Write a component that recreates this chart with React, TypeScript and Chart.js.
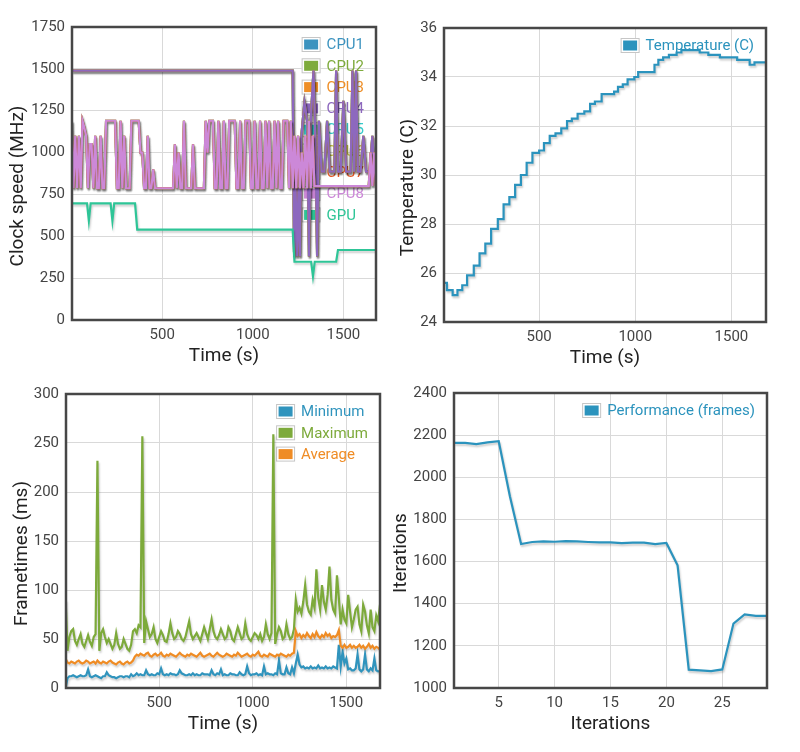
import React, { useEffect, useRef } from 'react';
import Chart from 'chart.js/auto';

const FONT = 'Roboto, "Noto Sans", sans-serif';
Chart.defaults.font.family = FONT;

// ---------- Clock speed ----------
const CPU_NAMES = ['CPU1', 'CPU2', 'CPU3', 'CPU4', 'CPU5', 'CPU6', 'CPU7', 'CPU8', 'GPU'];
const CPU_COLORS = ['#3c93bf', '#7eab3c', '#ef8f27', '#8d68be', '#35cccc', '#c6c33d', '#ef5b27', '#cc88d8', '#2ec597'];
const TIME_TICKS = [500, 1000, 1500];

// one sample every 10 s (clock speed of the little cores, frametimes)
const SAMPLE_TIME = Array.from({ length: 169 }, (_, i) => i * 10);

// CPU1-4 (big cluster) – change points
const BIG_TIME = [0, 1220, 1228, 1236, 1244, 1252, 1260, 1268, 1285, 1300,
  1310, 1320, 1335, 1345, 1355, 1365, 1380, 1395, 1410, 1425,
  1440, 1450, 1460, 1470, 1485, 1500, 1515, 1530, 1540, 1550,
  1560, 1570, 1580, 1595, 1610, 1625, 1645, 1660, 1670, 1680];
const BIG_MHZ = [1490, 1490, 380, 800, 380, 790, 380, 1100, 1300, 1190,
  380, 1200, 1490, 1100, 380, 1190, 886, 886, 1190, 886,
  886, 886, 1490, 886, 886, 1310, 886, 886, 886, 1490,
  886, 1490, 886, 886, 1100, 886, 886, 1100, 886, 886];

// CPU5-8 (little cluster) – one value per sample
const LITTLE_MHZ = [
  1190, 787, 1100, 787, 1100, 787, 1190, 1150, 1100, 787,
  1050, 1050, 787, 1100, 787, 787, 1100, 787, 787, 1190,
  1190, 1190, 1190, 1190, 1190, 787, 787, 1190, 787, 1100,
  787, 787, 787, 1190, 1190, 1190, 1190, 1190, 1000, 1000,
  787, 787, 1100, 787, 787, 900, 787, 787, 787, 787,
  787, 787, 787, 787, 787, 787, 787, 1050, 787, 1000,
  787, 787, 1190, 787, 787, 787, 787, 1050, 787, 787,
  787, 787, 787, 787, 1190, 1000, 1190, 1190, 1190, 787,
  787, 1190, 787, 787, 1190, 787, 787, 1190, 1190, 1190,
  1190, 787, 787, 1190, 787, 787, 1190, 1190, 1190, 787,
  787, 1190, 787, 787, 1190, 787, 787, 1190, 787, 1190,
  787, 787, 1190, 787, 1190, 787, 787, 1190, 1190, 1190,
  787, 1190, 787, 1100, 787, 1100, 787, 1000, 787, 1100,
  787, 1190, 787, 1100, 800, 800, 800, 800, 800, 800,
  800, 800, 800, 800, 800, 800, 800, 800, 800, 800,
  800, 800, 800, 800, 800, 800, 800, 800, 800, 800,
  800, 800, 800, 800, 800, 1000, 800, 1000, 800,
];

const GPU_TIME = [0, 85, 95, 105, 215, 225, 235, 350, 362, 1220, 1230, 1322, 1332, 1342, 1460, 1470, 1680];
const GPU_MHZ = [697, 697, 593, 697, 697, 593, 697, 697, 540, 540, 348, 348, 262, 348, 348, 418, 418];

// ---------- Temperature ----------
const TEMP_TIME = [5, 20, 50, 75, 100, 125, 160, 190, 220, 250, 285, 315, 345, 375, 405, 435, 465, 500, 525, 555,
  585, 615, 645, 670, 700, 735, 765, 790, 825, 890, 910, 935, 960, 995, 1015, 1100, 1120, 1145, 1175, 1215,
  1240, 1335, 1380, 1440, 1530, 1595, 1620, 1680];
const TEMP_C = [25.6, 25.3, 25.1, 25.3, 25.5, 25.9, 26.3, 26.8, 27.2, 27.8, 28.2, 28.8, 29.1, 29.6, 30.0, 30.5,
  30.9, 31.0, 31.3, 31.6, 31.7, 31.9, 32.2, 32.3, 32.5, 32.6, 32.9, 33.0, 33.3, 33.4, 33.6, 33.7, 33.9, 34.0,
  34.2, 34.5, 34.7, 34.8, 34.9, 35.0, 35.1, 35.0, 34.9, 34.8, 34.7, 34.5, 34.6, 34.6];

// ---------- Frametimes ----------
const FRAME_NAMES = ['Minimum', 'Maximum', 'Average'];
const FRAME_COLORS = ['#3094bd', '#7daa3b', '#ef8c25'];
const FRAME_MIN = [
  0, 10, 12, 12, 13, 12, 11, 12, 13, 12,
  12, 13, 19, 12, 11, 12, 13, 12, 11, 10,
  12, 12, 16, 13, 12, 11, 11, 10, 11, 12,
  12, 11, 12, 12, 11, 14, 12, 13, 15, 13,
  14, 13, 13, 18, 14, 13, 14, 13, 13, 15,
  14, 20, 14, 13, 14, 13, 15, 14, 14, 13,
  14, 18, 15, 14, 13, 13, 14, 13, 15, 13,
  14, 13, 13, 15, 14, 14, 14, 13, 18, 14,
  13, 15, 14, 19, 13, 14, 13, 13, 15, 14,
  14, 13, 13, 16, 14, 13, 14, 22, 15, 13,
  14, 14, 15, 13, 14, 13, 22, 14, 15, 14,
  14, 13, 15, 14, 28, 15, 14, 14, 21, 15,
  14, 21, 15, 25, 34, 24, 21, 22, 20, 21,
  20, 22, 20, 21, 20, 23, 20, 21, 20, 22,
  20, 21, 20, 22, 21, 20, 44, 22, 37, 25,
  30, 19, 20, 18, 18, 20, 34, 19, 17, 19,
  34, 19, 17, 20, 18, 30, 18, 17, 17,
];
const FRAME_MAX = [
  90, 38, 52, 58, 60, 48, 44, 50, 55, 45,
  42, 48, 54, 47, 43, 52, 55, 232, 38, 56,
  60, 52, 46, 50, 45, 40, 44, 56, 45, 40,
  42, 50, 45, 40, 38, 44, 58, 60, 56, 64,
  62, 257, 46, 68, 60, 52, 55, 62, 50, 46,
  52, 58, 54, 48, 47, 55, 66, 56, 50, 52,
  58, 55, 50, 48, 52, 60, 68, 55, 50, 53,
  56, 52, 48, 55, 62, 56, 50, 60, 70, 58,
  52, 50, 54, 60, 55, 50, 52, 62, 58, 50,
  48, 55, 62, 56, 50, 52, 66, 55, 50, 48,
  52, 56, 54, 50, 55, 48, 52, 65, 55, 50,
  56, 259, 45, 55, 62, 58, 50, 52, 65, 55,
  50, 52, 60, 90, 78, 82, 76, 88, 105, 85,
  78, 75, 90, 82, 121, 92, 80, 105, 88, 80,
  95, 124, 90, 80, 76, 115, 92, 65, 80, 70,
  66, 95, 78, 62, 70, 80, 83, 65, 58, 85,
  78, 64, 56, 80, 62, 58, 74, 68, 85,
];
const FRAME_AVG = [
  30, 26, 25, 27, 26, 25, 27, 28, 26, 25,
  26, 28, 27, 25, 26, 27, 25, 28, 26, 25,
  27, 26, 25, 27, 28, 26, 25, 24, 26, 27,
  25, 24, 26, 27, 25, 26, 28, 32, 34, 33,
  35, 34, 33, 35, 36, 33, 32, 34, 35, 33,
  34, 36, 33, 32, 34, 33, 35, 34, 33, 32,
  34, 36, 34, 33, 32, 34, 33, 35, 34, 33,
  32, 34, 36, 33, 32, 33, 34, 35, 33, 32,
  34, 36, 34, 33, 32, 33, 35, 34, 33, 32,
  34, 33, 36, 34, 32, 33, 34, 35, 33, 32,
  34, 33, 35, 37, 33, 32, 34, 33, 32, 35,
  34, 33, 32, 34, 33, 35, 34, 33, 32, 34,
  33, 35, 36, 58, 53, 55, 51, 54, 52, 56,
  53, 51, 55, 52, 57, 53, 51, 54, 52, 56,
  53, 55, 51, 53, 52, 54, 59, 43, 41, 44,
  41, 42, 44, 41, 43, 41, 42, 44, 41, 43,
  40, 42, 45, 41, 43, 40, 42, 41, 39,
];

// ---------- Performance ----------
const ITERATIONS = [1, 2, 3, 4, 5, 6, 7, 8, 9, 10, 11, 12, 13, 14, 15, 16, 17, 18, 19, 20, 21, 22, 23, 24, 25, 26, 27, 28, 29];
const ITER_TICKS = [5, 10, 15, 20, 25];
const PERF_FRAMES = [2163, 2163, 2157, 2166, 2171, 1910, 1683, 1693, 1696, 1694, 1697, 1696, 1693, 1691, 1691,
  1688, 1690, 1690, 1683, 1688, 1582, 1087, 1084, 1080, 1088, 1306, 1349, 1342, 1342];

const BLUE = '#2b93bd';
const X_AXIS_H = 48;

const pts = (xs: number[], ys: number[]) => ys.map((y, i) => ({ x: xs[i], y }));

type Series = { label: string; color: string; data: { x: number; y: number }[]; stepped?: boolean };
type PanelProps = {
  pos: { left: number; top: number; width: number; height: number };
  area: { left: number; top: number; right: number; bottom: number };
  yTitleX: number;
  yTitle: string;
  xTitle: string;
  x: { min: number; max: number; ticks: number[] };
  y: { min: number; max: number; step: number };
  series: Series[];
  legend: { label: string; color: string }[];
};

function Panel(p: PanelProps) {
  const ref = useRef<HTMLCanvasElement>(null);

  useEffect(() => {
    if (!ref.current) return;

    // legend inside the plot, border round it, rotated y title, soft line shadows
    const frame = {
      id: 'frame',
      beforeDatasetsDraw(chart: any) {
        const { ctx, chartArea: a } = chart;
        ctx.save();
        ctx.font = `15px ${FONT}`;
        const textW = Math.max(...p.legend.map((it) => ctx.measureText(it.label).width));
        const boxW = 19, boxH = 15, gap = 6, rowH = 21.3;
        const x0 = a.right - 12 - textW - gap - boxW;
        p.legend.forEach((it, i) => {
          const cy = a.top + 17.5 + i * rowH;
          ctx.fillStyle = '#fff';
          ctx.fillRect(x0, cy - boxH / 2, boxW, boxH);
          ctx.strokeStyle = '#c6c6c6';
          ctx.lineWidth = 1;
          ctx.strokeRect(x0 + 0.5, cy - boxH / 2 + 0.5, boxW - 1, boxH - 1);
          ctx.fillStyle = it.color;
          ctx.fillRect(x0 + 2.5, cy - boxH / 2 + 2.5, boxW - 5, boxH - 5);
          ctx.textAlign = 'left';
          ctx.textBaseline = 'middle';
          ctx.fillText(it.label, x0 + boxW + gap, cy + 1);
        });
        ctx.restore();

        ctx.save();
        ctx.shadowColor = 'rgba(0,0,0,0.2)';
        ctx.shadowBlur = 2;
        ctx.shadowOffsetX = 1;
        ctx.shadowOffsetY = 2;
      },
      afterDatasetsDraw(chart: any) {
        const { ctx, chartArea: a } = chart;
        ctx.restore();
        ctx.save();
        ctx.strokeStyle = '#474747';
        ctx.lineWidth = 2.5;
        ctx.strokeRect(a.left, a.top, a.right - a.left, a.bottom - a.top);
        ctx.translate(p.yTitleX, (a.top + a.bottom) / 2 + 12.5);
        ctx.rotate(-Math.PI / 2);
        ctx.font = `19px ${FONT}`;
        ctx.fillStyle = '#222';
        ctx.textAlign = 'center';
        ctx.textBaseline = 'middle';
        ctx.fillText(p.yTitle, 0, 0);
        ctx.restore();
      },
    };

    const grid = { color: '#d9d9d9', lineWidth: 1, drawTicks: false };
    const ticks = { color: '#444', font: { size: 15 }, callback: (v: any) => String(v) };

    const chart = new Chart(ref.current, {
      type: 'line',
      data: {
        datasets: p.series.map((s, i) => ({
          label: s.label,
          data: s.data,
          borderColor: s.color,
          backgroundColor: s.color,
          borderWidth: 2.2,
          pointRadius: 0,
          fill: false,
          tension: 0,
          stepped: s.stepped ?? false,
          order: p.series.length - i,
        })),
      },
      options: {
        animation: false,
        responsive: false,
        events: [],
        layout: {
          padding: {
            left: 0,
            top: p.area.top,
            right: p.pos.width - p.area.right,
            bottom: p.pos.height - p.area.bottom - X_AXIS_H,
          },
        },
        plugins: { legend: { display: false }, tooltip: { enabled: false } },
        scales: {
          x: {
            type: 'linear',
            min: p.x.min,
            max: p.x.max,
            afterBuildTicks: (s: any) => { s.ticks = p.x.ticks.map((value) => ({ value })); },
            afterFit: (s: any) => { s.height = X_AXIS_H; },
            ticks: { ...ticks, padding: 6, maxRotation: 0, autoSkip: false },
            grid,
            border: { display: false },
            title: { display: true, text: p.xTitle, color: '#222', font: { size: 19 }, padding: 0 },
          },
          y: {
            min: p.y.min,
            max: p.y.max,
            afterFit: (s: any) => { s.width = p.area.left; },
            ticks: { ...ticks, stepSize: p.y.step, padding: 7 },
            grid,
            border: { display: false },
          },
        },
      } as any,
      plugins: [frame],
    });

    return () => chart.destroy();
  }, []);

  return (
    <canvas
      ref={ref}
      width={p.pos.width}
      height={p.pos.height}
      style={{ position: 'absolute', left: p.pos.left, top: p.pos.top }}
    />
  );
}

export default function App() {
  const clockSeries: Series[] = CPU_NAMES.map((name, i) => ({
    label: name,
    color: CPU_COLORS[i],
    data: i < 4 ? pts(BIG_TIME, BIG_MHZ) : i < 8 ? pts(SAMPLE_TIME, LITTLE_MHZ) : pts(GPU_TIME, GPU_MHZ),
  }));
  const frameValues = [FRAME_MIN, FRAME_MAX, FRAME_AVG];
  const frameSeries: Series[] = FRAME_NAMES.map((name, i) => ({
    label: name,
    color: FRAME_COLORS[i],
    data: pts(SAMPLE_TIME, frameValues[i]),
  }));

  return (
    <div style={{ position: 'absolute', left: 0, top: 0, width: 800, height: 752, background: '#fff', overflow: 'hidden' }}>
      <Panel
        pos={{ left: 0, top: 0, width: 400, height: 376 }}
        area={{ left: 72, top: 27, right: 376, bottom: 320 }}
        yTitleX={18}
        yTitle="Clock speed (MHz)"
        xTitle="Time (s)"
        x={{ min: 2, max: 1680, ticks: TIME_TICKS }}
        y={{ min: 0, max: 1750, step: 250 }}
        series={clockSeries}
        legend={CPU_NAMES.map((n, i) => ({ label: n, color: CPU_COLORS[i] }))}
      />
      <Panel
        pos={{ left: 400, top: 0, width: 400, height: 376 }}
        area={{ left: 44, top: 28, right: 366, bottom: 322 }}
        yTitleX={8.5}
        yTitle="Temperature (C)"
        xTitle="Time (s)"
        x={{ min: 5, max: 1680, ticks: TIME_TICKS }}
        y={{ min: 24, max: 36, step: 2 }}
        series={[{ label: 'Temperature (C)', color: BLUE, data: pts(TEMP_TIME, TEMP_C), stepped: true }]}
        legend={[{ label: 'Temperature (C)', color: BLUE }]}
      />
      <Panel
        pos={{ left: 0, top: 376, width: 400, height: 376 }}
        area={{ left: 66, top: 18, right: 380, bottom: 312 }}
        yTitleX={22.5}
        yTitle="Frametimes (ms)"
        xTitle="Time (s)"
        x={{ min: 2, max: 1680, ticks: TIME_TICKS }}
        y={{ min: 0, max: 300, step: 50 }}
        series={frameSeries}
        legend={FRAME_NAMES.map((n, i) => ({ label: n, color: FRAME_COLORS[i] }))}
      />
      <Panel
        pos={{ left: 390, top: 376, width: 410, height: 376 }}
        area={{ left: 64, top: 17, right: 377, bottom: 312 }}
        yTitleX={11}
        yTitle="Iterations"
        xTitle="Iterations"
        x={{ min: 1, max: 29, ticks: ITER_TICKS }}
        y={{ min: 1000, max: 2400, step: 200 }}
        series={[{ label: 'Performance (frames)', color: BLUE, data: pts(ITERATIONS, PERF_FRAMES) }]}
        legend={[{ label: 'Performance (frames)', color: BLUE }]}
      />
    </div>
  );
}
